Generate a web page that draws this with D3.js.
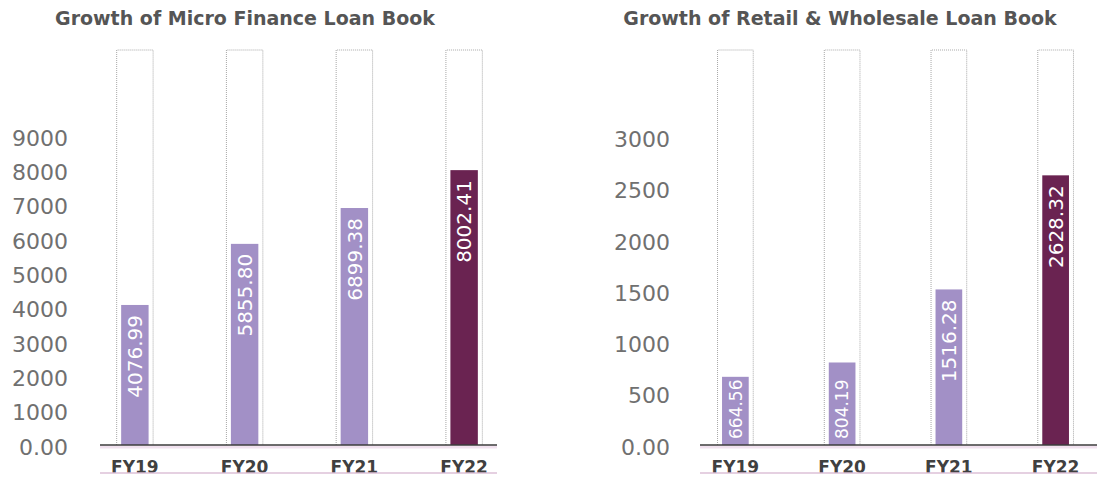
<!DOCTYPE html>
<html>
<head>
<meta charset="utf-8">
<script src="https://cdn.jsdelivr.net/npm/d3@7"></script>
<style>
  body { margin: 0; background: #fff; }
  text { font-family: "DejaVu Sans", sans-serif; }
</style>
</head>
<body>
<script>
// data
const years = ["FY19", "FY20", "FY21", "FY22"];
const microValues = [4076.99, 5855.80, 6899.38, 8002.41];
const retailValues = [664.56, 804.19, 1516.28, 2628.32];
const microTicks = [0, 1000, 2000, 3000, 4000, 5000, 6000, 7000, 8000, 9000];
const retailTicks = [0, 500, 1000, 1500, 2000, 2500, 3000];

const svg = d3.select("body").append("svg")
  .attr("width", 1097)
  .attr("height", 484);

const light = "#a290c6", dark = "#6a2351";

function drawChart(opt) {
  const g = svg.append("g");
  const y = d3.scaleLinear().domain([0, opt.yMax]).range([445, 50]);
  const x = d3.scaleBand().domain(years).range(opt.band)
    .paddingInner(0.75).paddingOuter(0.375);

  // title
  g.append("text")
    .attr("x", opt.titleX).attr("y", 25)
    .attr("text-anchor", "middle")
    .attr("font-weight", "bold")
    .attr("font-size", 19)
    .attr("fill", "#555")
    .text(opt.title);

  // y axis labels
  const yAxis = d3.axisLeft(y).tickValues(opt.ticks).tickSize(0).tickPadding(0)
    .tickFormat(d => d === 0 ? "0.00" : d);
  const ya = g.append("g").attr("transform", `translate(${opt.yLabelX},0)`).call(yAxis);
  ya.select(".domain").remove();
  ya.selectAll("text")
    .attr("dy", "0.42em")
    .attr("font-size", 22)
    .attr("fill", "#707070")
    .style("font-family", "'DejaVu Sans', sans-serif");

  // dotted frames
  const pad = 4.5;
  g.selectAll(".frame").data(years).enter().append("path")
    .attr("class", "frame")
    .attr("d", d => {
      const x0 = x(d) - pad, x1 = x(d) + x.bandwidth() + pad;
      return `M${x0},${y(0)}V${y(opt.yMax)}H${x1}V${y(0)}`;
    })
    .attr("fill", "none")
    .attr("stroke", "#a8a8a8")
    .attr("stroke-width", 1)
    .attr("stroke-dasharray", "1,1");

  // bars
  const data = years.map((k, i) => ({ k, v: opt.values[i] }));
  g.selectAll(".bar").data(data).enter().append("rect")
    .attr("class", "bar")
    .attr("x", d => x(d.k))
    .attr("y", d => y(d.v))
    .attr("width", x.bandwidth())
    .attr("height", d => y(0) - y(d.v))
    .attr("fill", d => d.k === years[years.length - 1] ? dark : light);

  // value labels (rotated), short bars get theirs from the base
  const tall = d => (y(0) - y(d.v)) > 100;
  g.selectAll(".val").data(data).enter().append("text")
    .attr("class", "val")
    .attr("transform", d => {
      const cx = x(d.k) + x.bandwidth() / 2;
      const py = tall(d) ? y(d.v) + 10 : y(0) - 6;
      return `translate(${cx},${py}) rotate(-90)`;
    })
    .attr("text-anchor", d => tall(d) ? "end" : "start")
    .attr("dy", "0.36em")
    .attr("font-size", d => tall(d) ? 20 : 17)
    .attr("fill", "#fff")
    .text(d => d.v.toFixed(2));

  // base axis line
  g.append("line")
    .attr("x1", opt.lineX[0]).attr("x2", opt.lineX[1])
    .attr("y1", y(0) + 2).attr("y2", y(0) + 2)
    .attr("stroke", "#f1e2ef").attr("stroke-width", 3);
  g.append("line")
    .attr("x1", opt.lineX[0]).attr("x2", opt.lineX[1])
    .attr("y1", y(0)).attr("y2", y(0))
    .attr("stroke", "#3c3c3c").attr("stroke-width", 1.5);

  // x labels
  const xAxis = d3.axisBottom(x).tickSize(0).tickPadding(0);
  const xa = g.append("g").attr("transform", "translate(0,461)").call(xAxis);
  xa.select(".domain").remove();
  xa.selectAll("text")
    .attr("dy", "0.71em")
    .attr("font-size", 17)
    .attr("font-weight", "bold")
    .attr("fill", "#404040")
    .style("font-family", "'DejaVu Sans', sans-serif");

  // bottom line
  g.append("line")
    .attr("x1", opt.lineX[0]).attr("x2", opt.lineX[1])
    .attr("y1", 473).attr("y2", 473)
    .attr("stroke", "#dcc0d7").attr("stroke-width", 1.5);
}

drawChart({
  title: "Growth of Micro Finance Loan Book",
  titleX: 245,
  values: microValues,
  ticks: microTicks,
  yMax: 11500,
  band: [80, 519],
  yLabelX: 68,
  lineX: [100, 497]
});

drawChart({
  title: "Growth of Retail & Wholesale Loan Book",
  titleX: 840,
  values: retailValues,
  ticks: retailTicks,
  yMax: 3850,
  band: [682, 1109],
  yLabelX: 670,
  lineX: [700, 1097]
});
</script>
</body>
</html>
